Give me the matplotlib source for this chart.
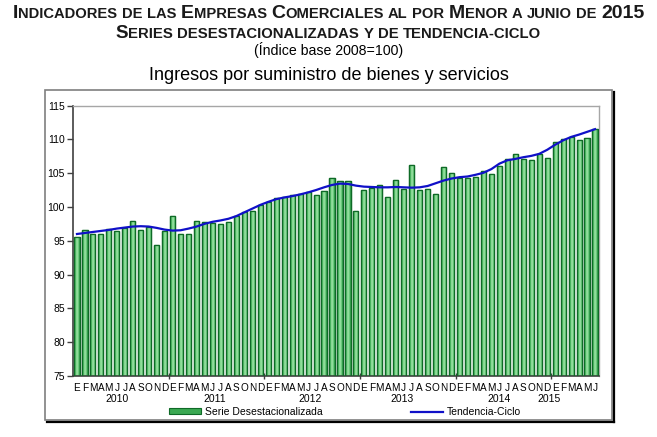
import numpy as np
import matplotlib
matplotlib.use('Agg')
import matplotlib.pyplot as plt
from matplotlib.patches import Rectangle, Patch
from matplotlib.lines import Line2D
from matplotlib.colors import LinearSegmentedColormap

plt.rcParams['font.family'] = ['Liberation Sans', 'DejaVu Sans']

# datos: ene 2010 - jun 2015
meses = ['E', 'F', 'M', 'A', 'M', 'J', 'J', 'A', 'S', 'O', 'N', 'D'] * 5 + ['E', 'F', 'M', 'A', 'M', 'J']
anios = ['2010', '2011', '2012', '2013', '2014', '2015']
pos_anios = [5.0, 17.3, 29.2, 40.8, 52.9, 59.2]

serie = [95.6, 96.55, 96.05, 96.0, 96.75, 96.45, 96.9, 97.85, 96.6, 97.1, 94.35, 96.45,
         98.6, 96.05, 96.05, 97.9, 97.8, 97.6, 97.45, 97.8, 98.6, 99.2, 99.4, 100.3,
         100.8, 101.25, 101.4, 101.75, 101.85, 102.25, 101.75, 102.3, 104.25, 103.8, 103.8, 99.45,
         102.55, 102.85, 103.2, 101.4, 103.95, 102.65, 106.2, 102.5, 102.65, 101.85, 105.9, 105.0,
         104.25, 104.3, 104.45, 105.3, 104.85, 106.05, 107.1, 107.8, 107.15, 107.0, 107.85, 107.2,
         109.55, 110.1, 110.3, 109.95, 110.25, 111.55]

tendencia = [96.0, 96.15, 96.3, 96.45, 96.6, 96.8, 96.95, 97.1, 97.15, 97.1, 96.9, 96.65,
             96.5, 96.55, 96.8, 97.1, 97.5, 97.8, 98.0, 98.25, 98.65, 99.2, 99.75, 100.3,
             100.75, 101.15, 101.4, 101.6, 101.85, 102.15, 102.5, 102.9, 103.25, 103.45, 103.4, 103.15,
             103.0, 102.95, 102.9, 102.9, 102.95, 102.9, 102.85, 102.9, 103.1, 103.5, 103.9, 104.2,
             104.4, 104.5, 104.75, 105.05, 105.6, 106.4, 106.9, 107.1, 107.35, 107.55, 107.85, 108.45,
             109.2, 109.85, 110.35, 110.7, 111.1, 111.5]

W, H = 657, 437
fig = plt.figure(figsize=(W / 100, H / 100), dpi=100)
fig.patch.set_facecolor('white')

# marco exterior con sombra
fig.add_artist(Rectangle((45 / W, 1 - 420 / H), 567 / W, 330 / H, transform=fig.transFigure,
                         fill=False, edgecolor='#7f7f7f', lw=1.2))
fig.add_artist(Line2D([614 / W, 614 / W], [1 - 422 / H, 1 - 92 / H], transform=fig.transFigure,
                      color='black', lw=1.6))
fig.add_artist(Line2D([47 / W, 614 / W], [1 - 422 / H, 1 - 422 / H], transform=fig.transFigure,
                      color='black', lw=1.6))

ax = fig.add_axes([73 / W, 1 - 376 / H, 526 / W, 270.5 / H])
x = np.arange(len(serie))

verde_borde = '#0f6a27'
bars = ax.bar(x, np.array(serie) - 75, bottom=75, width=0.64, color='#3aa852',
              edgecolor=verde_borde, linewidth=0.9, zorder=2)
cmap = LinearSegmentedColormap.from_list('g', ['#1f8b3b', '#52c066', '#a3e4ab', '#70cf80', '#23903f'])
grad = np.linspace(0, 1, 32).reshape(1, -1)
for b in bars:
    bx, by = b.get_x(), b.get_y()
    im = ax.imshow(grad, cmap=cmap, aspect='auto', zorder=2.5,
                   extent=(bx, bx + b.get_width(), by, by + b.get_height()))
    im.set_clip_path(b)
for b in bars:
    ax.add_patch(Rectangle((b.get_x(), b.get_y()), b.get_width(), b.get_height(),
                           fill=False, edgecolor=verde_borde, lw=0.9, zorder=3))

ax.plot(x, tendencia, color='#1010c8', lw=1.6, zorder=4)

ax.set_xlim(-0.5, len(serie) - 0.5)
ax.set_ylim(75, 115)
ax.set_yticks(np.arange(75, 116, 5))
ax.tick_params(axis='y', labelsize=7.5, length=4, width=1, color='#404040', pad=2)
ax.set_xticks(x)
ax.set_xticklabels(meses, fontsize=7.2)
ax.tick_params(axis='x', length=0, pad=5)
ax.set_xticks(np.arange(11.5, len(serie), 12), minor=True)
ax.tick_params(axis='x', which='minor', length=4, direction='inout', width=1, color='#404040')

for s in ['left', 'bottom']:
    ax.spines[s].set_color('#404040')
    ax.spines[s].set_linewidth(1.2)
for s in ['top', 'right']:
    ax.spines[s].set_color('#a6a6a6')
    ax.spines[s].set_linewidth(1.0)

for a, p in zip(anios, pos_anios):
    ax.text(p, -0.085, a, transform=ax.get_xaxis_transform(), ha='center', va='center', fontsize=7.5)

# leyenda
hs = [Patch(facecolor='#3aa852', edgecolor=verde_borde, lw=0.8),
      Line2D([0], [0], color='#1010c8', lw=1.6)]
fig.legend(hs, ['Serie Desestacionalizada', 'Tendencia-Ciclo'], ncol=2, loc='center',
           bbox_to_anchor=(345 / W, 1 - 412 / H), frameon=False, fontsize=7.5,
           handlelength=3.1, handleheight=0.45, handletextpad=0.4, columnspacing=8.4)

# titulos en versalitas
rend = fig.canvas.get_renderer()


def versalitas(ypx, palabras, grande, chica):
    items = []
    for pal in palabras:
        piezas = []
        if pal[1] == 'todo':
            piezas.append((pal[0], grande))
        elif pal[1]:
            piezas.append((pal[0][0], grande))
            piezas.append((pal[0][1:], chica))
        else:
            piezas.append((pal[0], chica))
        items.append(piezas)
    textos = []
    total = 0
    esp = chica * 0.3 * 100 / 72
    for k, piezas in enumerate(items):
        for s, fs in piezas:
            t = fig.text(0, 1 - ypx / H, s, fontsize=fs, fontweight='bold', color='#1a1a1a',
                         va='baseline', ha='left')
            w = t.get_window_extent(rend).width
            textos.append((t, total))
            total += w
        if k < len(items) - 1:
            total += esp
    x0 = (W - total) / 2
    for t, off in textos:
        t.set_x((x0 + off) / W)


versalitas(18, [('INDICADORES', True), ('DE', False), ('LAS', False), ('EMPRESAS', True),
                ('COMERCIALES', True), ('AL', False), ('POR', False), ('MENOR', True),
                ('A', False), ('JUNIO', False), ('DE', False), ('2015', 'todo')], 14, 10.6)
versalitas(38, [('SERIES', True), ('DESESTACIONALIZADAS', False), ('Y', False), ('DE', False),
                ('TENDENCIA-CICLO', False)], 13.5, 10.7)

fig.text(0.5, 1 - 50 / H, '(Índice base 2008=100)', ha='center', va='center', fontsize=10.2)
fig.text(0.5, 1 - 76 / H, 'Ingresos por suministro de bienes y servicios', ha='center', va='center',
         fontsize=13)

fig.savefig('out.png', dpi=100)
